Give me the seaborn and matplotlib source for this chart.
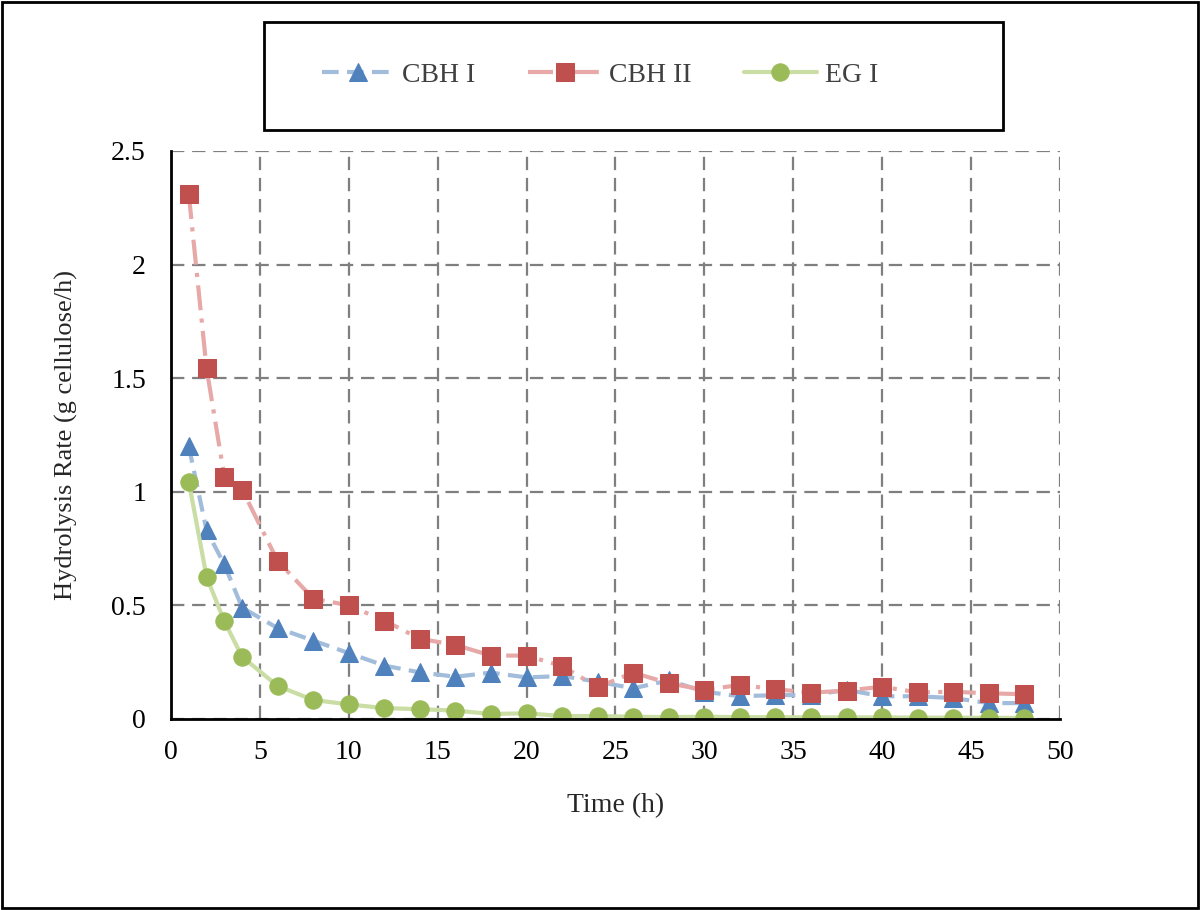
import pandas as pd
import numpy as np
import seaborn as sns
import matplotlib.pyplot as plt
from matplotlib.patches import Rectangle

# data
time_h = [1, 2, 3, 4, 6, 8, 10, 12, 14, 16, 18, 20, 22, 24, 26, 28, 30, 32, 34, 36, 38, 40, 42, 44, 46, 48]
cbh1 = [1.20, 0.83, 0.68, 0.49, 0.40, 0.345, 0.29, 0.235, 0.205, 0.186, 0.204, 0.183, 0.189, 0.164, 0.135, 0.17,
        0.12, 0.10, 0.105, 0.105, 0.128, 0.10, 0.10, 0.092, 0.07, 0.07]
cbh2 = [2.31, 1.543, 1.066, 1.01, 0.695, 0.53, 0.50, 0.433, 0.353, 0.326, 0.279, 0.279, 0.233, 0.14, 0.204, 0.157,
        0.128, 0.150, 0.131, 0.116, 0.125, 0.142, 0.117, 0.12, 0.113, 0.109]
eg1 = [1.045, 0.626, 0.43, 0.274, 0.145, 0.084, 0.064, 0.048, 0.043, 0.037, 0.022, 0.025, 0.013, 0.013, 0.010, 0.008,
       0.010, 0.008, 0.008, 0.007, 0.007, 0.007, 0.006, 0.006, 0.005, 0.005]

sns.set_style("white")
plt.rcParams['font.family'] = ['Liberation Serif', 'DejaVu Serif']

fig = plt.figure(figsize=(12, 9.1), dpi=100)
ax = fig.add_axes([0.1425, 0.2099, 0.7408, 0.6242])

sns.lineplot(x=time_h, y=cbh1, ax=ax, color='#A2BCDC', lw=3, linestyle=(0, (4, 2)),
             marker='^', markersize=13.5, markerfacecolor='#4F81BD', markeredgecolor='#4F81BD', label='CBH I')
sns.lineplot(x=time_h, y=cbh2, ax=ax, color='#E6A9A8', lw=3, linestyle=(0, (6, 2, 1, 2)),
             marker='s', markersize=12.5, markerfacecolor='#C0504D', markeredgecolor='#C0504D', label='CBH II')
sns.lineplot(x=time_h, y=eg1, ax=ax, color='#C9DDA4', lw=3, linestyle='-',
             marker='o', markersize=12.5, markerfacecolor='#9BBB59', markeredgecolor='#9BBB59', label='EG I')

ax.set_xlim(0, 50)
ax.set_ylim(0, 2.5)
ax.set_xticks(range(0, 51, 5))
ax.set_yticks([0, 0.5, 1, 1.5, 2, 2.5])
ax.set_yticklabels(['0', '0.5', '1', '1.5', '2', '2.5'])
ax.grid(True, color='#7F7F7F', linestyle=(0, (6, 3.5)), lw=1.6)
for s in ['top', 'right']:
    ax.spines[s].set_visible(False)
for s in ['left', 'bottom']:
    ax.spines[s].set_color('black')
    ax.spines[s].set_linewidth(2)
ax.tick_params(axis='both', direction='out', length=6, width=1.5, labelsize=20, colors='black')
ax.tick_params(axis='y', pad=12)
ax.tick_params(axis='x', pad=9)
ax.set_xlabel('Time (h)', fontsize=20, labelpad=20)
ax.set_ylabel('Hydrolysis Rate (g cellulose/h)', fontsize=19, labelpad=24)

ax.get_legend().remove()
h, l = ax.get_legend_handles_labels()
fig.patches.append(Rectangle((0.22, 0.857), 0.616, 0.119, transform=fig.transFigure,
                             fill=False, edgecolor='black', lw=2))
fig.legend(h, l, loc='center', bbox_to_anchor=(0.5, 0.9176), ncol=3, frameon=False,
           fontsize=20, handlelength=2.6, columnspacing=1.9, handletextpad=0.3, labelcolor='#404040')

# outer frame
fig.patches.append(Rectangle((0.002, 0.002), 0.996, 0.996, transform=fig.transFigure,
                             fill=False, edgecolor='black', lw=2))

fig.savefig('out.png', dpi=100)
